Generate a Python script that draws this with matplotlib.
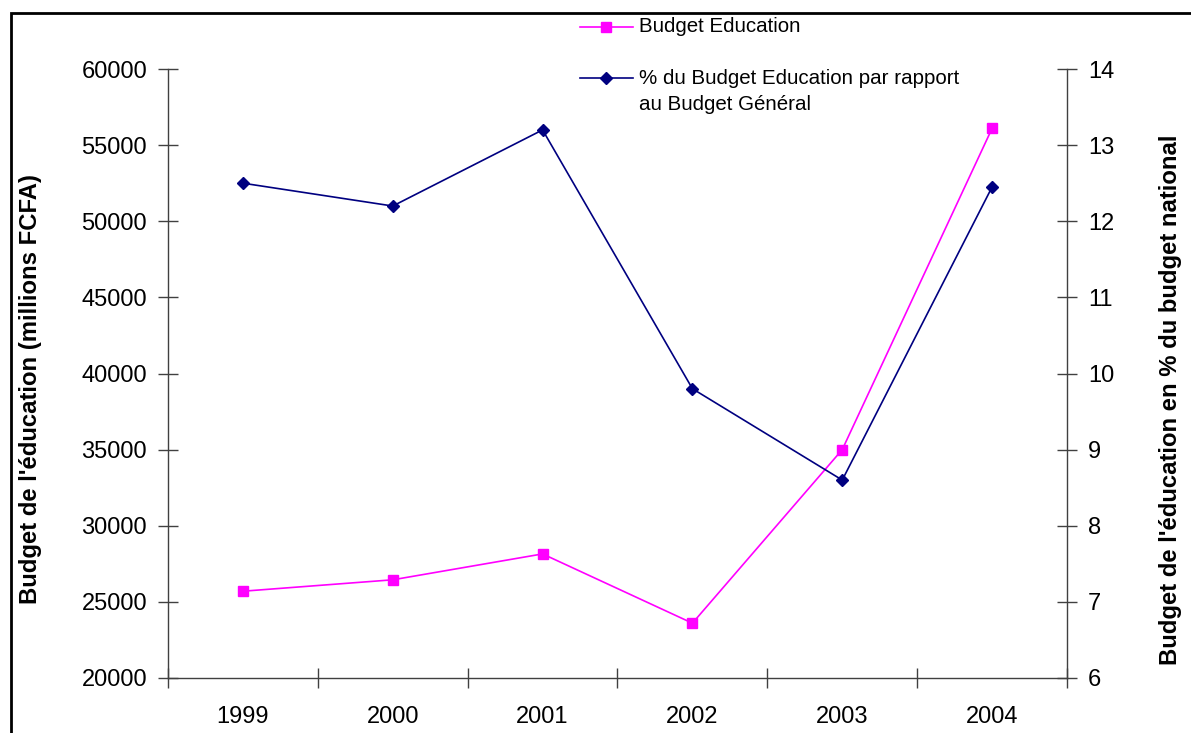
import matplotlib
matplotlib.use("Agg")
import matplotlib.pyplot as plt
from matplotlib.patches import Rectangle
from matplotlib.lines import Line2D

years = ["1999", "2000", "2001", "2002", "2003", "2004"]
budget = [25700, 26450, 28150, 23600, 35000, 56100]
pct = [12.5, 12.2, 13.2, 9.8, 8.6, 12.45]
left_ticks = [20000, 25000, 30000, 35000, 40000, 45000, 50000, 55000, 60000]
right_ticks = [6, 7, 8, 9, 10, 11, 12, 13, 14]
labels = ["Budget Education", "% du Budget Education par rapport\nau Budget Général"]

MAG = '#FF00FF'
NAVY = '#000080'

plt.rcParams['font.family'] = ['Liberation Sans', 'DejaVu Sans']

W, H = 1191, 733
fig = plt.figure(figsize=(W/100, H/100), dpi=100)
ax = fig.add_axes([168/W, 55/H, (1067-168)/W, (678-69)/H])
ax2 = ax.twinx()

x = list(range(len(years)))
ax.plot(x, budget, color=MAG, marker='s', markersize=7.5, linewidth=1.2)
ax2.plot(x, pct, color=NAVY, marker='D', markersize=6.5, linewidth=1.2)

ax.set_xlim(-0.5, len(years) - 0.5)
ax.set_ylim(20000, 60000)
ax2.set_ylim(6, 14)
ax.set_yticks(left_ticks)
ax2.set_yticks(right_ticks)
ax.set_xticks(x)
ax.set_xticklabels(years)
ax.set_xticks([i - 0.5 for i in range(len(years) + 1)], minor=True)
ax.tick_params(axis='x', which='major', length=0, pad=20, labelsize=17)
ax.tick_params(axis='x', which='minor', direction='inout', length=14, width=1, color='#404040')
ax.tick_params(axis='y', direction='inout', length=14, width=1, color='#404040', labelsize=17, pad=8)
ax2.tick_params(axis='y', direction='inout', length=14, width=1, color='#404040', labelsize=17, pad=8)

for a in (ax, ax2):
    a.spines['top'].set_visible(False)
    for s in ('left', 'right', 'bottom'):
        a.spines[s].set_color('#404040')
        a.spines[s].set_linewidth(1)
ax.spines['right'].set_visible(False)
ax2.spines['left'].set_visible(False)
ax2.spines['bottom'].set_visible(False)

fig.text(31/W, 1 - 389/H, "Budget de l'éducation (millions FCFA)", rotation=90,
         ha='center', va='center', fontsize=17.2, fontweight='bold')
fig.text(1170/W, 1 - 400/H, "Budget de l'éducation en % du budget national", rotation=90,
         ha='center', va='center', fontsize=17.2, fontweight='bold')

# legend (Excel style: handle aligned with first text line)
for lab, col, mk, ms, ypx in [(labels[0], MAG, 's', 7.5, 27), (labels[1], NAVY, 'D', 6.5, 78)]:
    fig.add_artist(Line2D([580/W, 606/W, 633/W], [1 - ypx/H] * 3, color=col, linewidth=1.2,
                          marker=mk, markersize=ms, markevery=[1], transform=fig.transFigure))
    for i, line in enumerate(lab.split('\n')):
        fig.text(639/W, 1 - (ypx + 26 * i)/H, line, ha='left', va='center', fontsize=14.8,
                 transform=fig.transFigure)

fig.patches.append(Rectangle((11/W, -0.1), 1.2, 1 - 13/H + 0.1, transform=fig.transFigure,
                             fill=False, edgecolor='black', linewidth=2, zorder=10))

fig.savefig('out.png', dpi=100)
